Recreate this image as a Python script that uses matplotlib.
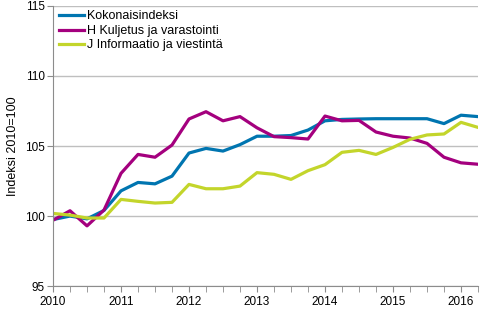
import matplotlib

matplotlib.use("Agg")
import matplotlib.pyplot as plt
import numpy as np

plt.rcParams["font.family"] = ["Liberation Sans", "DejaVu Sans"]

# quarterly index values, 2010Q1 .. 2016Q2
start_year = 2010
kokonais = [99.75, 100.0, 99.8, 100.4, 101.8, 102.4, 102.3, 102.85, 104.5, 104.83,
            104.64, 105.1, 105.7, 105.7, 105.75, 106.14, 106.8, 106.9, 106.93, 106.95,
            106.95, 106.95, 106.95, 106.6, 107.2, 107.1]
kuljetus = [99.7, 100.38, 99.3, 100.43, 103.05, 104.4, 104.2, 105.07, 106.93, 107.45,
            106.8, 107.1, 106.3, 105.67, 105.6, 105.5, 107.14, 106.8, 106.83, 106.0,
            105.7, 105.57, 105.19, 104.2, 103.8, 103.7]
informaatio = [100.19, 100.07, 99.86, 99.86, 101.19, 101.05, 100.93, 100.98, 102.26, 101.95,
               101.95, 102.14, 103.1, 102.98, 102.62, 103.24, 103.67, 104.55, 104.69, 104.4,
               104.9, 105.48, 105.79, 105.86, 106.69, 106.33]
labels = ["Kokonaisindeksi", "H Kuljetus ja varastointi", "J Informaatio ja viestintä"]
colors = ["#0075B0", "#A4007E", "#C3D52B"]
year_ticks = [2010, 2011, 2012, 2013, 2014, 2015, 2016]
y_ticks = [95, 100, 105, 110, 115]

GRID = "#bfbfbf"
AXIS = "#8c8c8c"

x = start_year + np.arange(len(kokonais)) / 4

fig = plt.figure(figsize=(5, 3.3), dpi=100)
ax = fig.add_axes([0.106, 0.133, 0.85, 0.849])

for series, label, color in zip([kokonais, kuljetus, informaatio], labels, colors):
    ax.plot(x, series, color=color, linewidth=2.3, label=label)

ax.set_xlim(x[0], x[-1])
ax.set_ylim(95, 115)
ax.set_yticks(y_ticks)
ax.set_xticks(year_ticks)
ax.set_xticks(x, minor=True)
ax.grid(axis="y", color=GRID, linewidth=1)
ax.set_axisbelow(True)
for spine in ("top", "right"):
    ax.spines[spine].set_visible(False)
ax.spines["left"].set_color(AXIS)
ax.spines["bottom"].set_color(AXIS)
ax.tick_params(axis="x", which="both", length=4, color=AXIS, labelsize=8.5, pad=3)
ax.tick_params(axis="y", length=4, color=AXIS, labelsize=8.5, pad=2)
ax.set_ylabel("Indeksi 2010=100", fontsize=9, labelpad=4)

ax.legend(loc="upper left", bbox_to_anchor=(0.006, 0.995), frameon=False, fontsize=9,
          handlelength=2.0, handletextpad=0.3, labelspacing=0.2,
          borderaxespad=0.0, borderpad=0.25)

fig.savefig("out.png", dpi=100)
